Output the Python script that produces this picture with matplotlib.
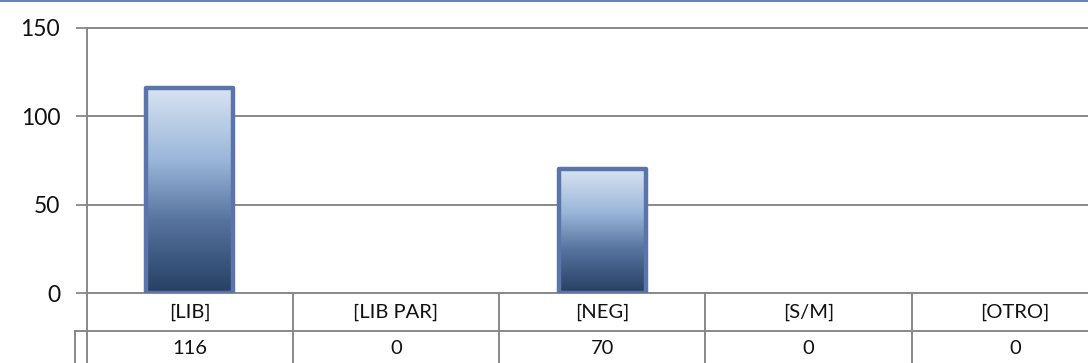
import numpy as np
import matplotlib
matplotlib.use("Agg")
import matplotlib.pyplot as plt
from matplotlib.colors import LinearSegmentedColormap
from matplotlib.lines import Line2D

categories = ["[LIB]", "[LIB PAR]", "[NEG]", "[S/M]", "[OTRO]"]
values = [116, 0, 70, 0, 0]
yticks = [0, 50, 100, 150]

plt.rcParams["font.family"] = ["Lato", "DejaVu Sans"]

W, H = 1088, 363
fig = plt.figure(figsize=(W / 100, H / 100), dpi=100)

# plot area in pixels: left 86.5, top 28, bottom 293, category width ~206.3
left_px, top_px, bot_px = 86.5, 28.0, 293.0
cat_w = 206.3
ax_w = cat_w * len(categories)
ax = fig.add_axes([left_px / W, (H - bot_px) / H, ax_w / W, (bot_px - top_px) / H])
ax.set_xlim(-0.5, len(categories) - 0.5)
ax.set_ylim(0, 150)

grid_c = "#888888"
for s in ax.spines.values():
    s.set_visible(False)
ax.set_yticks(yticks)
ax.set_yticklabels([str(t) for t in yticks], fontsize=16.5, color="#111111")
ax.tick_params(axis="y", length=8, width=1.3, color=grid_c, pad=11)
ax.set_xticks([])
for t in yticks:
    ax.axhline(t, color=grid_c, lw=1.4, zorder=1, clip_on=False)

# gradient bars
cmap = LinearSegmentedColormap.from_list(
    "barfill",
    [(0.0, "#263f63"), (0.35, "#56739f"), (0.65, "#9ab6da"), (1.0, "#d8e3f1")],
)
grad = np.linspace(0, 1, 256).reshape(-1, 1)
bw = 0.42
edge_w = [3.2 if v > 0 else 0 for v in values]
bars = ax.bar(range(len(categories)), values, width=bw, facecolor="none",
              edgecolor="#5b75ab", linewidth=edge_w, joinstyle="round", zorder=4)
for rect, v in zip(bars, values):
    if v <= 0:
        continue
    x0 = rect.get_x()
    # soft shadow
    ax.bar(rect.get_x() + bw / 2 + 0.012, v, width=bw, bottom=-1.2,
           color="#000000", alpha=0.12, zorder=2, linewidth=0)
    im = ax.imshow(grad, cmap=cmap, origin="lower", aspect="auto",
                   extent=(x0, x0 + bw, 0, v), zorder=3, interpolation="bicubic")
    im.set_clip_path(rect)
ax.set_xlim(-0.5, len(categories) - 0.5)
ax.set_ylim(0, 150)

# data table beneath the plot
row_h = 38.0 / (bot_px - top_px)
trans = ax.get_xaxis_transform()
line_kw = dict(color=grid_c, lw=1.4, transform=trans, clip_on=False, zorder=5)
ax.add_line(Line2D([-0.5, -0.5], [1, -3 * row_h], **line_kw))
for i in range(1, len(categories)):
    ax.add_line(Line2D([i - 0.5, i - 0.5], [0, -3 * row_h], **line_kw))
key_x = -0.5 - 12.0 / cat_w
ax.add_line(Line2D([key_x, len(categories)], [-row_h, -row_h], **line_kw))
ax.add_line(Line2D([key_x, key_x], [-row_h, -3 * row_h], **line_kw))

for i, (c, v) in enumerate(zip(categories, values)):
    ax.text(i, -row_h / 2, c, transform=trans, ha="center", va="center",
            fontsize=14.5, color="#111111", clip_on=False)
    ax.text(i, -row_h * 1.45, str(v), transform=trans, ha="center", va="center",
            fontsize=14.5, color="#111111", clip_on=False)

# thin frame edge along the top
fig.add_artist(Line2D([0, 1], [1 - 0.8 / H, 1 - 0.8 / H], color="#5a7bb0",
                      lw=1.3, transform=fig.transFigure))

fig.savefig("out.png", dpi=100)
